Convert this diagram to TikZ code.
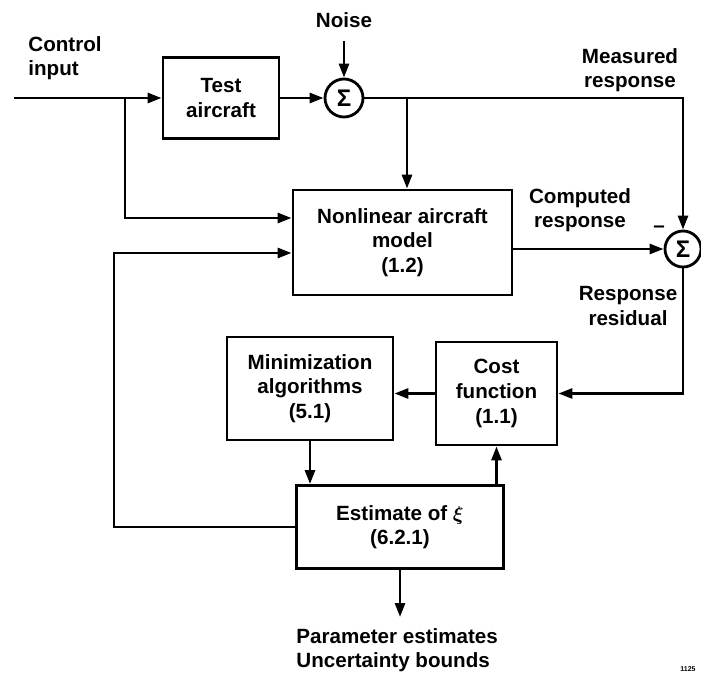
\documentclass[tikz,border=0pt]{standalone}
\usepackage{bm}
\usepackage{fontspec}
\setmainfont{Liberation Sans}
\usetikzlibrary{arrows.meta,positioning}

\begin{document}
\begin{tikzpicture}[x=0.5pt, y=-0.5pt,
    line width=1.4pt,
    txt/.style={font=\fontsize{10.3}{12.3}\selectfont\bfseries, inner sep=0pt},
    blk/.style={draw, txt, align=center},
    sumc/.style={draw, circle, inner sep=0pt, font=\fontsize{12}{12}\selectfont\bfseries},
    arr/.style={-{Triangle[length=7pt, width=5pt]}}]
    \useasboundingbox (0,0) rectangle (701,674);

    % Blöcke
    \node[blk, minimum width=58pt, minimum height=40.5pt] (test) at (221, 98) {Test\\aircraft};
    \node[sumc, minimum size=19pt] (sum1) at (344, 98) {Σ};
    \node[blk, minimum width=109.5pt, minimum height=52.5pt] (model) at (402.5, 242.5) {Nonlinear aircraft\\model\\(1.2)};
    \node[sumc, minimum size=18pt] (sum2) at (683, 249) {Σ};
    \node[blk, minimum width=83pt, minimum height=51.5pt] (minim) at (310, 388.5) {Minimization\\algorithms\\(5.1)};
    \node[blk, minimum width=60.5pt, minimum height=51.5pt] (cost) at (496.5, 393.5) {Cost\\function\\(1.1)};
    \node[blk, minimum width=103.5pt, minimum height=41.5pt] (est) at (400, 527) {Estimate of $\bm{\xi}$\\(6.2.1)};

    % Beschriftungen
    \node[txt, align=left, anchor=west] (ctrl) at (27, 58) {Control\\input};
    \node[txt] (noise) at (344, 20) {Noise};
    \node[txt, align=center] (meas) at (630, 70) {Measured\\response};
    \node[txt, align=center] (comp) at (580, 210) {Computed\\response};
    \node[txt] (minus) at (659, 229) {–};
    \node[txt, align=center] (resid) at (628, 306) {Response\\residual};
    \node[txt, align=left, anchor=west] (out) at (295, 650) {Parameter estimates\\Uncertainty bounds};
    \node[font=\fontsize{3.5}{4}\selectfont\bfseries, inner sep=0pt] (fig) at (688, 669) {1125};

    \coordinate (in) at (14, 98);
    \coordinate (br1) at (125, 98);
    \coordinate (br2) at (407, 98);
    \coordinate (fb) at (114, 0);
    \coordinate (outTip) at (400, 617);

    % Verbindungen
    \draw[arr] (in) -- (test.west);
    \draw[arr] (br1) |- ([yshift=12.25pt]model.west);
    \draw[arr] (test.east) -- (sum1.west);
    \draw[arr] (noise.south) ++(0,-6pt) -- (sum1.north);
    \draw[arr] (sum1.east) -| (sum2.north);
    \draw[arr] (br2) -- (br2 |- model.north);
    \draw[arr] (model.east |- sum2) -- (sum2.west);
    \draw[arr] (sum2.south) |- (cost.east);
    \draw[arr] (cost.west) -- (minim.east |- cost.west);
    \draw[arr] (minim.south) -- (minim.south |- est.north);
    \draw[arr] (cost.south |- est.north) -- (cost.south);
    \draw[arr] (est.west) -- (est.west -| fb) |- ([yshift=-5.25pt]model.west);
    \draw[arr] (est.south) -- (outTip);
\end{tikzpicture}
\end{document}
